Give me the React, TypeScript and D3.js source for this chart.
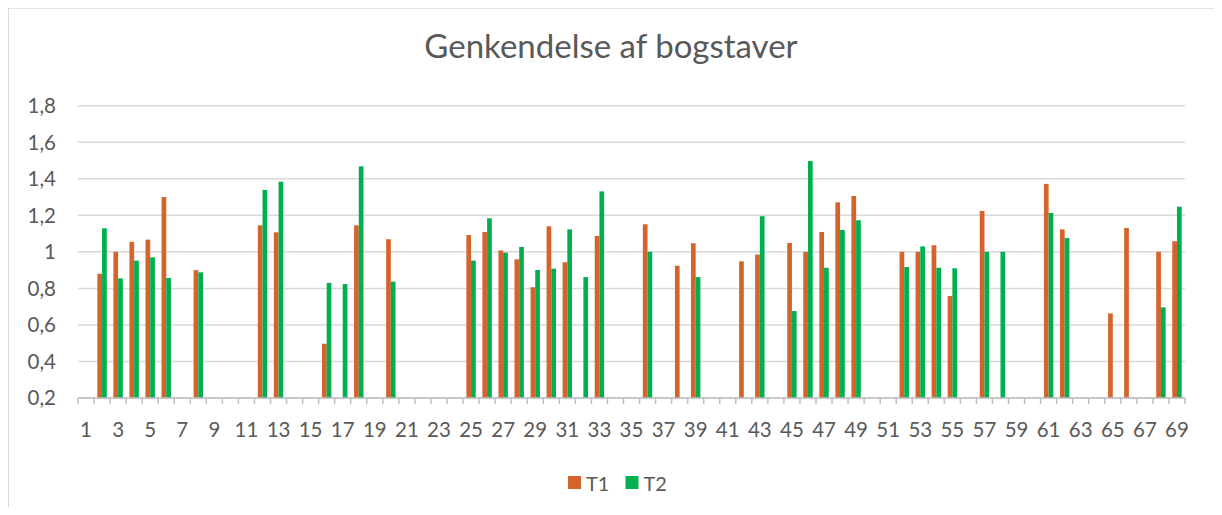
import React from "react";
import * as d3 from "d3";

const categories: number[] = d3.range(1, 70);
const t1: (number | null)[] = [
  null, 0.88, 1.0, 1.055, 1.067, 1.3, null, 0.9, null, null,
  null, 1.145, 1.107, null, null, 0.497, null, 1.145, null, 1.069,
  null, null, null, null, 1.092, 1.109, 1.008, 0.959, 0.806, 1.14,
  0.943, null, 1.087, null, null, 1.151, null, 0.924, 1.047, null,
  null, 0.948, 0.985, null, 1.049, 1.0, 1.109, 1.271, 1.306, null,
  null, 1.0, 1.0, 1.036, 0.758, null, 1.224, null, null, null,
  1.372, 1.123, null, null, 0.663, 1.131, null, 1.0, 1.058,
];
const t2: (number | null)[] = [
  null, 1.129, 0.855, 0.952, 0.97, 0.857, null, 0.888, null, null,
  null, 1.339, 1.384, null, null, 0.83, 0.824, 1.468, null, 0.837,
  null, null, null, null, 0.952, 1.184, 0.996, 1.027, 0.901, 0.908,
  1.123, 0.862, 1.331, null, null, 1.0, null, null, 0.862, null,
  null, null, 1.195, null, 0.676, 1.497, 0.913, 1.12, 1.173, null,
  null, 0.917, 1.03, 0.913, 0.91, null, 1.0, 1.0, null, null,
  1.213, 1.076, null, null, null, null, null, 0.696, 1.247,
];
const seriesNames = ["T1", "T2"];
const seriesColors = ["#D4632C", "#00B050"];
const yTicks = [0.2, 0.4, 0.6, 0.8, 1.0, 1.2, 1.4, 1.6, 1.8];
const title = "Genkendelse af bogstaver";

const FONT = "Lato, 'Open Sans', sans-serif";
const TEXT = "#595959";

export default function App() {
  const left = 78, right = 1185, top = 105.7, bottom = 398;
  const x = d3.scaleBand<number>().domain(categories).range([left, right]).paddingInner(0).paddingOuter(0);
  const step = x.step();
  const xs = d3.scaleBand<string>().domain(seriesNames).range([-4.7, 4.7]);
  const y = d3.scaleLinear().domain([0.2, 1.8]).range([bottom, top]);
  const fmt = (v: number) => (Math.abs(v - Math.round(v)) < 1e-9 ? String(Math.round(v)) : v.toFixed(1).replace(".", ","));
  const data = [t1, t2];

  return (
    <svg width={1214} height={499} style={{ display: "block", overflow: "visible" }}>
      <g transform="translate(-8,-8)">
        <rect x={0} y={0} width={1230} height={530} fill="#fff" />
        <rect x={8} y={7.7} width={1210} height={600} fill="#fff" stroke="#d9d9d9" strokeWidth={2} />
        <text x={611} y={58} textAnchor="middle" fontFamily={FONT} fontSize={33} fill={TEXT}>
          {title}
        </text>
        {yTicks.map((t) => (
          <g key={t}>
            <line x1={left} x2={right} y1={y(t)} y2={y(t)} stroke="#d9d9d9" strokeWidth={1.5} />
            <text x={56} y={y(t)} dy="0.36em" textAnchor="end" fontFamily={FONT} fontSize={20.5} fill={TEXT}>
              {fmt(t)}
            </text>
          </g>
        ))}
        {data.map((vals, si) =>
          vals.map((v, i) =>
            v == null ? null : (
              <rect
                key={`${si}-${i}`}
                x={(x(categories[i]) as number) + step / 2 + (xs(seriesNames[si]) as number)}
                y={y(v)}
                width={xs.bandwidth()}
                height={y(0.2) - y(v)}
                fill={seriesColors[si]}
              />
            )
          )
        )}
        <line x1={left} x2={right} y1={bottom} y2={bottom} stroke="#bfbfbf" strokeWidth={1.5} />
        {categories.map((c) => (
          <line key={`t${c}`} x1={x(c) as number} x2={x(c) as number} y1={bottom} y2={bottom + 6} stroke="#bfbfbf" strokeWidth={1.5} />
        ))}
        <line x1={right} x2={right} y1={bottom} y2={bottom + 6} stroke="#bfbfbf" strokeWidth={1.5} />
        {categories.filter((c) => c % 2 === 1).map((c) => (
          <text key={`l${c}`} x={(x(c) as number) + step / 2} y={437} textAnchor="middle" fontFamily={FONT} fontSize={20.5} fill={TEXT}>
            {c}
          </text>
        ))}
        {seriesNames.map((s, i) => (
          <g key={s} transform={`translate(${568 + i * 57.5},476)`}>
            <rect x={0} y={0} width={13} height={13} fill={seriesColors[i]} />
            <text x={18} y={14.5} fontFamily={FONT} fontSize={20} fill={TEXT}>
              {s}
            </text>
          </g>
        ))}
      </g>
    </svg>
  );
}
